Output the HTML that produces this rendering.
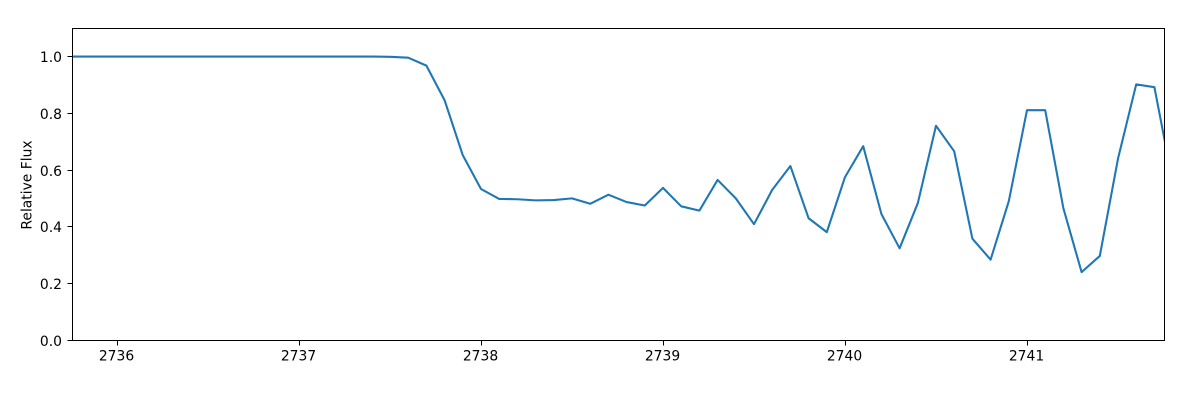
<!DOCTYPE html>
<html lang="en">
<head>
<meta charset="utf-8">
<title>Relative Flux Light Curve</title>
<style>
html, body { margin: 0; padding: 0; background: #fff; width: 1200px; height: 400px; overflow: hidden; }
svg { display: block; }
text { font-family: "DejaVu Sans", "Liberation Sans", sans-serif; font-size: 13.89px; fill: #000; }
</style>
</head>
<body>
<svg id="chart" xmlns="http://www.w3.org/2000/svg" width="1200" height="400" viewBox="0 0 1200 400">
  <defs>
    <clipPath id="plot-clip"><rect x="72" y="28" width="1092" height="312"></rect></clipPath>
  </defs>
  <rect x="0" y="0" width="1200" height="400" fill="#fff"></rect>
  <g id="ticks"></g>
  <polyline id="series" clip-path="url(#plot-clip)" fill="none" stroke="#1f77b4" stroke-width="2.08" stroke-linejoin="round" stroke-linecap="square"></polyline>
  <rect x="72.5" y="28.5" width="1092" height="312" fill="none" stroke="#000" stroke-width="1"></rect>
  <text x="27.5" y="185" text-anchor="middle" dominant-baseline="central" transform="rotate(-90 27.5 185)">Relative Flux</text>
</svg>
<script>
const times = [
  2735.7, 2735.8, 2735.9, 2736.0, 2736.1, 2736.2, 2736.3, 2736.4, 2736.5, 2736.6,
  2736.7, 2736.8, 2736.9, 2737.0, 2737.1, 2737.2, 2737.3, 2737.4, 2737.5, 2737.6,
  2737.7, 2737.8, 2737.9, 2738.0, 2738.1, 2738.2, 2738.3, 2738.4, 2738.5, 2738.6,
  2738.7, 2738.8, 2738.9, 2739.0, 2739.1, 2739.2, 2739.3, 2739.4, 2739.5, 2739.6,
  2739.7, 2739.8, 2739.9, 2740.0, 2740.1, 2740.2, 2740.3, 2740.4, 2740.5, 2740.6,
  2740.7, 2740.8, 2740.9, 2741.0, 2741.1, 2741.2, 2741.3, 2741.4, 2741.5, 2741.6,
  2741.7, 2741.8
];
const flux = [
  1.0, 1.0, 1.0, 1.0, 1.0, 1.0, 1.0, 1.0, 1.0, 1.0,
  1.0, 1.0, 1.0, 1.0, 1.0, 1.0, 1.0, 1.0, 0.999, 0.996,
  0.968, 0.846, 0.652, 0.533, 0.498, 0.497, 0.493, 0.494, 0.5, 0.481,
  0.513, 0.487, 0.475, 0.537, 0.472, 0.457, 0.565, 0.5, 0.409, 0.53,
  0.614, 0.43, 0.381, 0.575, 0.684, 0.445, 0.324, 0.483, 0.756, 0.666,
  0.358, 0.284, 0.49, 0.811, 0.811, 0.465, 0.24, 0.297, 0.64, 0.902,
  0.892, 0.56
];
const xTickValues = [2736, 2737, 2738, 2739, 2740, 2741];
const xTickLabels = ["2736", "2737", "2738", "2739", "2740", "2741"];
const yTickValues = [0, 0.2, 0.4, 0.6, 0.8, 1.0];
const yTickLabels = ["0.0", "0.2", "0.4", "0.6", "0.8", "1.0"];

const plotLeft = 71.5, plotRight = 1163.5, plotTop = 28.2, plotBottom = 340.2;
const xMin = 2735.75, xMax = 2741.75, yMin = 0, yMax = 1.1;

function xScale(v) {
  return plotLeft + (v - xMin) / (xMax - xMin) * (plotRight - plotLeft);
}
function yScale(v) {
  return plotBottom - (v - yMin) / (yMax - yMin) * (plotBottom - plotTop);
}

const NS = "http://www.w3.org/2000/svg";
const ticksGroup = document.getElementById("ticks");

function makeSvg(tag, attrs, text) {
  const node = document.createElementNS(NS, tag);
  for (const key in attrs) node.setAttribute(key, attrs[key]);
  if (text !== undefined) node.textContent = text;
  return node;
}

xTickValues.forEach(function (value, i) {
  const x = Math.floor(xScale(value)) + 0.5;
  const tick = makeSvg("line", { x1: x, x2: x, y1: 340.5, y2: 345.5, stroke: "#000", "stroke-width": 1 });
  
  
  ticksGroup.appendChild(tick);
  const label = makeSvg("text", { x: xScale(value) - 0.5, y: 360.5, "text-anchor": "middle" }, xTickLabels[i]);
  
  
  ticksGroup.appendChild(label);
});

yTickValues.forEach(function (value, i) {
  const y = Math.floor(yScale(value)) + 0.5;
  const tick = makeSvg("line", { x1: 67.5, x2: 72.5, y1: y, y2: y, stroke: "#000", "stroke-width": 1 });
  
  
  ticksGroup.appendChild(tick);
  const label = makeSvg("text", { x: 62, y: y + 5.5, "text-anchor": "end" }, yTickLabels[i]);
  
  
  ticksGroup.appendChild(label);
});

const points = times.map(function (t, i) {
  return xScale(t).toFixed(2) + "," + yScale(flux[i]).toFixed(2);
}).join(" ");
document.getElementById("series").setAttribute("points", points);
</script>
</body>
</html>
